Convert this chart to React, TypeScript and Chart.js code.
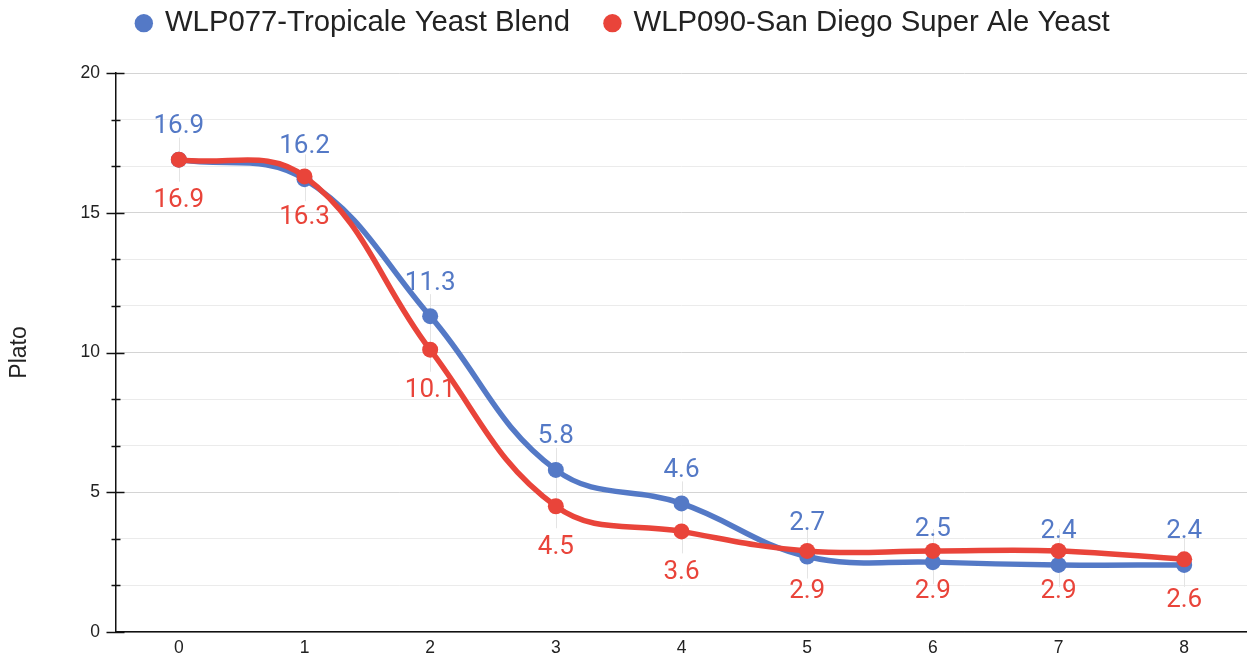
import { useEffect, useRef } from 'react';
import { Chart, registerables } from 'chart.js';

Chart.register(...registerables);

const categories = ['0', '1', '2', '3', '4', '5', '6', '7', '8'];
const tropicale = [16.9, 16.2, 11.3, 5.8, 4.6, 2.7, 2.5, 2.4, 2.4];
const sanDiego = [16.9, 16.3, 10.1, 4.5, 3.6, 2.9, 2.9, 2.9, 2.6];
const seriesNames = ['WLP077-Tropicale Yeast Blend', 'WLP090-San Diego Super Ale Yeast'];
const yMajorTicks = [0, 5, 10, 15, 20];
const yMinorPerMajor = 3;
const yAxisTitle = 'Plato';

const BLUE = '#5479c6';
const RED = '#e9443a';
const FONT = "'Liberation Sans', Arial, Helvetica, sans-serif";

function buildYTicks(): number[] {
  const out: number[] = [];
  for (let k = 0; k < yMajorTicks.length; k++) {
    out.push(yMajorTicks[k]);
    if (k < yMajorTicks.length - 1) {
      const step = (yMajorTicks[k + 1] - yMajorTicks[k]) / yMinorPerMajor;
      for (let j = 1; j < yMinorPerMajor; j++) out.push(yMajorTicks[k] + j * step);
    }
  }
  return out;
}
const yTickValues = buildYTicks();

const guidePlugin = {
  id: 'guides',
  beforeDatasetsDraw(chart: any) {
    const ctx = chart.ctx;
    const m0 = chart.getDatasetMeta(0);
    const m1 = chart.getDatasetMeta(1);
    ctx.save();
    ctx.strokeStyle = '#e4e4e4';
    ctx.lineWidth = 1;
    m0.data.forEach((p: any, i: number) => {
      const q = m1.data[i];
      if (!q) return;
      const x = Math.round(p.x) + 0.5;
      const top = Math.min(p.y, q.y) - 22;
      const bot = Math.max(p.y, q.y) + 22;
      ctx.beginPath();
      ctx.moveTo(x, top);
      ctx.lineTo(x, bot);
      ctx.stroke();
    });
    ctx.restore();
  },
};

const labelPlugin = {
  id: 'pointLabels',
  afterDatasetsDraw(chart: any) {
    const ctx = chart.ctx;
    ctx.save();
    ctx.font = "26px Roboto, 'Liberation Sans', sans-serif";
    ctx.textAlign = 'center';
    ctx.textBaseline = 'middle';
    chart.data.datasets.forEach((ds: any, di: number) => {
      const meta = chart.getDatasetMeta(di);
      ctx.fillStyle = ds.borderColor;
      meta.data.forEach((p: any, i: number) => {
        const v = ds.data[i] as number;
        const y = di === 0 ? p.y - 33 : p.y + 41;
        ctx.fillText(v.toFixed(1), p.x, y);
      });
    });
    ctx.restore();
  },
};

const axisTickPlugin = {
  id: 'axisTicks',
  afterDraw(chart: any) {
    const ctx = chart.ctx;
    const ys = chart.scales.y;
    const x0 = Math.round(chart.chartArea.left) + 0.5;
    ctx.save();
    ctx.strokeStyle = '#111';
    ctx.lineWidth = 1.5;
    ys.ticks.forEach((t: any, i: number) => {
      const y = Math.round(ys.getPixelForValue(t.value)) + 0.5;
      const major = i % yMinorPerMajor === 0;
      ctx.beginPath();
      ctx.moveTo(x0 - (major ? 10 : 5), y);
      ctx.lineTo(x0 + (major ? 8 : 4), y);
      ctx.stroke();
    });
    ctx.restore();
  },
};

export default function App() {
  const ref = useRef<HTMLCanvasElement | null>(null);

  useEffect(() => {
    if (!ref.current) return;
    Chart.defaults.font.family = FONT;
    const chart = new Chart(ref.current, {
      type: 'line',
      data: {
        labels: categories,
        datasets: [
          {
            label: seriesNames[0],
            data: tropicale,
            borderColor: BLUE,
            backgroundColor: BLUE,
            pointBackgroundColor: BLUE,
            borderWidth: 5.5,
            tension: 0.4,
            pointRadius: 8,
            pointHoverRadius: 8,
            pointBorderWidth: 0,
            fill: false,
            order: 1,
          },
          {
            label: seriesNames[1],
            data: sanDiego,
            borderColor: RED,
            backgroundColor: RED,
            pointBackgroundColor: RED,
            borderWidth: 5.5,
            tension: 0.4,
            pointRadius: 8,
            pointHoverRadius: 8,
            pointBorderWidth: 0,
            fill: false,
            order: 0,
          },
        ],
      },
      options: {
        animation: false,
        responsive: false,
        devicePixelRatio: 1,
        layout: { autoPadding: false, padding: { top: -27.5, left: 0, right: 0, bottom: 0 } },
        plugins: {
          legend: {
            position: 'top',
            align: 'center',
            labels: {
              usePointStyle: true,
              pointStyle: 'circle',
              boxWidth: 13,
              boxHeight: 13,
              padding: 36,
              color: '#222',
              font: { size: 29.3, family: FONT },
              sort: (a: any, b: any) => a.datasetIndex - b.datasetIndex,
            },
          },
          title: {
            display: true,
            text: ' ',
            weight: 500,
            font: { size: 10, lineHeight: 1 },
            padding: { top: 0, bottom: 15.2 },
          } as any,
          tooltip: { enabled: false },
        },
        scales: {
          x: {
            type: 'category',
            offset: true,
            afterFit: (s: any) => {
              s.height = 27;
              s.paddingRight = 0;
              s.paddingLeft = 0;
            },
            grid: { display: true, color: 'rgba(0,0,0,0)', drawTicks: false },
            border: { display: true, color: '#111', width: 1.5 },
            ticks: { padding: 6, color: '#222', font: { size: 17.5 } },
          },
          y: {
            min: yMajorTicks[0],
            max: yMajorTicks[yMajorTicks.length - 1],
            afterBuildTicks: (s: any) => {
              s.ticks = yTickValues.map((v) => ({ value: v }));
            },
            afterFit: (s: any) => {
              s.width = 116;
            },
            grid: {
              color: (c: any) => (c.index % yMinorPerMajor === 0 ? '#d4d4d4' : '#ebebeb'),
              drawTicks: false,
            },
            border: { display: true, color: '#111', width: 1.5 },
            ticks: {
              autoSkip: false,
              padding: 16,
              color: '#222',
              font: { size: 17.5 },
              callback: (v: any, i: number) => (i % yMinorPerMajor === 0 ? String(Math.round(Number(v))) : ''),
            },
            title: {
              display: true,
              text: yAxisTitle,
              color: '#222',
              font: { size: 23 },
              padding: { top: 6, bottom: 0 },
            },
          },
        },
      } as any,
      plugins: [guidePlugin, labelPlugin, axisTickPlugin],
    });
    return () => chart.destroy();
  }, []);

  return (
    <div style={{ position: 'fixed', left: 0, top: 0, width: 1247, height: 659, background: '#fff' }}>
      <canvas ref={ref} width={1247} height={659} style={{ display: 'block' }} />
    </div>
  );
}
